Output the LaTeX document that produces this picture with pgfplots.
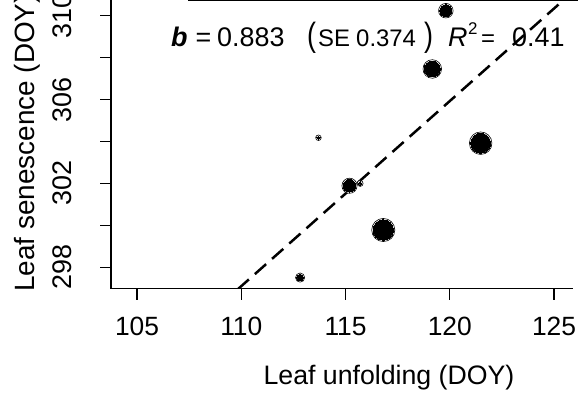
\documentclass[border=0pt]{standalone}
\usepackage{pgfplots}
\pgfplotsset{compat=1.18}
\usepackage{pgfplotstable}
\usepackage{fontspec}
\setmainfont{Liberation Sans}
\pgfplotstableread{
x y r R
119.81 310.24 6.0 7.3
119.16 307.46 8.0 9.3
113.70 304.18 1.6 2.8
121.48 303.92 10.0 11.3
115.19 301.89 6.3 7.6
115.70 302.00 1.8 3.0
116.81 299.78 10.3 11.6
112.82 297.51 3.3 4.6
}\pts
\begin{document}
\begin{tikzpicture}[x=1bp,y=1bp]
\useasboundingbox (0,0) rectangle (578,394);
\begin{axis}[
  at={(111bp,105.3bp)}, anchor=south west,
  scale only axis, width=462bp, height=288.7bp,
  xmin=103.75, xmax=125.91, ymin=296.98, ymax=310.75,
  axis x line=bottom, axis y line=left,
  axis line style={-, line width=1.2bp},
  xtick={105,110,115,120,125},
  xticklabels={105,110,115,120,125},
  ytick={298,300,302,304,306,308,310},
  yticklabels={298,,302,,306,,310},
  tick align=outside, major tick length=11bp,
  tick style={black, line width=1.2bp},
  xticklabel style={font=\fontsize{26.5}{30}\selectfont, anchor=base, yshift=-35.3bp, inner sep=0pt},
  yticklabel style={font=\fontsize{27}{31}\selectfont, xshift=-29bp, rotate=90, anchor=base, inner sep=0pt},
  clip=true,
]
\addplot[black, line width=2.5bp, dash pattern=on 15bp off 8bp] coordinates {(109,296.22) (127,312.11)};
\addplot[scatter, only marks, mark=*, clip=false,
  scatter/use mapped color={draw=black, fill=white},
  visualization depends on={\thisrow{R} \as \rr},
  scatter/@pre marker code/.append style={/tikz/mark size=\rr},
  mark options={line width=0.6bp}] table[x=x, y=y] {\pts};
\addplot[scatter, only marks, mark=*, clip=false,
  scatter/use mapped color={draw=black, fill=black},
  visualization depends on={\thisrow{r} \as \rs},
  scatter/@pre marker code/.append style={/tikz/mark size=\rs},
  mark options={line width=0pt}] table[x=x, y=y] {\pts};
\end{axis}
\draw[line width=1.5bp] (188,393.3) -- (578,393.3);
\begin{scope}[every node/.style={anchor=base west, inner sep=0pt, font=\fontsize{27}{31}\selectfont}]
\node at (171,348) {\textbf{\textit{b}}};
\node at (195.5,348) {=};
\node at (217,348) {0.883};
\node at (307,348) {\scalebox{1}[1.25]{(}};
\node[font=\fontsize{24}{28}\selectfont] at (318,348) {SE};
\node[font=\fontsize{24}{28}\selectfont] at (356,348) {0.374};
\node at (424,348) {\scalebox{1}[1.25]{)}};
\node at (448,348) {\textit{R}};
\node[font=\fontsize{17}{20}\selectfont] at (468,360) {2};
\node[font=\fontsize{24}{28}\selectfont] at (481,348) {=};
\node at (512,348) {0.41};
\end{scope}
\node[anchor=base, inner sep=0pt, font=\fontsize{26.8}{30}\selectfont] at (389,10) {Leaf unfolding (DOY)};
\node[anchor=base west, rotate=90, inner sep=0pt, font=\fontsize{28}{32}\selectfont] at (34,102) {Leaf senescence (DOY)};
\end{tikzpicture}
\end{document}
